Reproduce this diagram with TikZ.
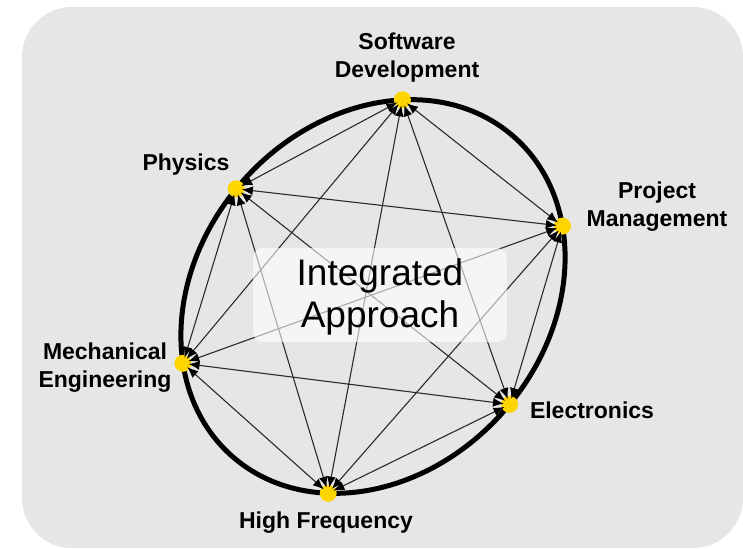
\documentclass[tikz,border=0pt]{standalone}
\usepackage{fontspec}
\setmainfont{Liberation Sans}
\usetikzlibrary{arrows.meta}
\definecolor{panel}{HTML}{E6E6E6}
\definecolor{dotyellow}{HTML}{FFD500}
\definecolor{linkgray}{HTML}{2B2B2B}
\begin{document}
\begin{tikzpicture}[x=1pt,y=-1pt,
  hub/.style={circle, fill=dotyellow, minimum size=17pt, inner sep=0pt},
  tag/.style={font=\fontsize{23}{28}\selectfont\bfseries, align=center, text=black, inner sep=0pt},
  tip/.tip={Latex[length=11pt,width=9pt,color=black]},
  linkline/.style={draw=linkgray, line width=1.1pt, tip-tip, shorten <=-3pt, shorten >=-3pt},
]
\useasboundingbox (0,0) rectangle (743,548);
% grey panel
\fill[panel, rounded corners=50pt] (22,7) rectangle (743,548);

% outer ring
\draw[line width=5pt, rotate around={48.5:(373,296.5)}]
  (373,296.5) ellipse [x radius=213, y radius=174];

% discipline hubs on the ring
\node[hub] (sd) at (402.4,99.8) {};
\node[hub] (ph) at (236.2,188.8) {};
\node[hub] (me) at (182.9,363.3) {};
\node[hub] (hf) at (328.2,493.2) {};
\node[hub] (el) at (509.6,404.4) {};
\node[hub] (pm) at (562.5,226.1) {};

% every discipline linked with every other
\foreach \a/\b in {sd/ph, sd/pm, sd/me, sd/el, sd/hf,
                   ph/pm, ph/me, ph/el, ph/hf,
                   pm/me, pm/el, pm/hf,
                   me/el, me/hf, el/hf}
  \draw[linkline] (\a) -- (\b);

% central caption
\node[fill=white, fill opacity=0.6, rounded corners=10pt, minimum width=254pt,
      minimum height=94pt, inner sep=0pt] (box) at (380,295) {};
\node[font=\fontsize{37}{42}\selectfont, align=center, inner sep=0pt]
  (title) at (380,296.5) {Integrated\\Approach};

% hub names
\node[tag] (sdT) at (407,58) {Software\\Development};
\node[tag] (phT) at (186,165) {Physics};
\node[tag] (pmT) at (657,207) {Project\\Management};
\node[tag] (meT) at (105,368) {Mechanical\\Engineering};
\node[tag] (elT) at (592,410) {Electronics};
\node[tag] (hfT) at (326,523) {High Frequency};
\end{tikzpicture}
\end{document}
